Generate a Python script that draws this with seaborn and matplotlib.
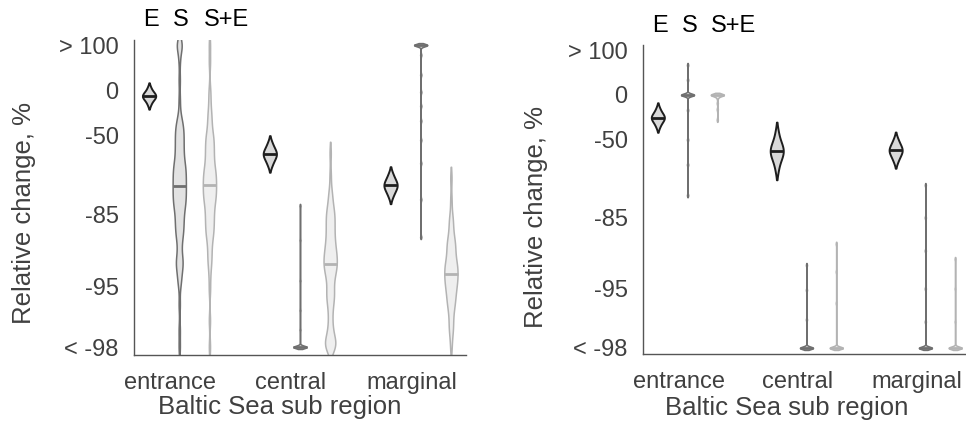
import numpy as np
import pandas as pd
import matplotlib
matplotlib.use("Agg")
import matplotlib.pyplot as plt
import matplotlib.ticker as mticker
import matplotlib.transforms as mtransforms
import seaborn as sns


# relative change (%) of each simulation.
# values outside the axis range are stored at the limits:
# 100 stands for "> 100" and -98 for "< -98"
regions = ["entrance", "central", "marginal"]
scenarios = ["E", "S", "S+E"]

# left panel
a_entrance_E = [5.6, 0.8, -2.2, -3.7, -5.1, -6.6, -8, -8, -9.4, -10.8, -12.1, -13.5, -16.1, -19.9]
a_entrance_S = [100, 100, 100, 100, 59, 17.3, -13.5, -31.2, -36.3,
                -40.5, -41.3, -44.9, -45.7, -48.9, -49.7, -52.7, -53.3, -56.2, -56.8,
                -59.4, -60.0, -62.3, -62.9, -65.1, -65.7,
                -67.6, -67.9, -68.2, -70.0, -70.3, -70.6, -72.2, -72.5, -72.8,
                -74.3, -74.5, -74.7, -76.2, -76.4, -76.6, -77.9, -78.1, -78.3,
                -79.5, -79.7, -79.9, -81.0, -81.2, -81.4, -82.4, -82.6, -82.8,
                -83.7, -83.9, -84.9, -85.1, -86.0, -86.2, -87.0, -87.2, -88.0, -88.2,
                -88.9, -89.1, -89.8, -90.5, -91.2, -91.9, -92.4, -92.6, -92.9, -93.1,
                -93.5, -94.0, -94.4, -94.9, -96.2, -97.4, -98]
a_entrance_SE = [100, 54.3, 0.7, -13.5, -25.8, -31.2, -36.3, -40.9, -45.3,
                 -48.9, -49.7, -52.7, -53.3, -56.2, -56.8, -59.4, -60.0, -62.3, -62.9,
                 -65.1, -65.7, -67.6, -68.2,
                 -70.0, -70.3, -70.6, -72.2, -72.5, -72.8, -74.3, -74.5, -74.7,
                 -76.2, -76.4, -76.6, -77.9, -78.1, -78.3, -79.5, -79.7, -79.9,
                 -81.0, -81.2, -81.4, -82.5, -82.7, -83.7, -83.9, -84.9, -85.1,
                 -86.0, -86.2, -87.0, -87.2, -88.0, -88.2, -88.9, -89.1,
                 -89.8, -90.5, -91.2, -91.9, -92.5, -93.0, -94.0, -95.2, -97.0, -98]
a_central_E = [-54.3, -56.4, -58.4, -59.3, -60.2, -61.1, -62, -62, -62.9, -63.7, -64.5, -65.3, -66.9, -68.4]
a_central_S = [-82.8, -89.8, -94.5, -96.5, -97.4, -98, -98, -98, -98, -98, -98, -98, -98, -98,
               -98, -98, -98, -98, -98, -98]
a_central_SE = [-61.5, -72.5, -78.1, -79.7, -81.2, -82.6, -83.7, -83.9, -84.9, -85.1,
                -86.0, -86.2, -87.0, -87.2, -88.0, -88.2, -88.9, -89.1, -89.7, -89.9,
                -90.4, -90.6, -91.1, -91.2, -91.3, -91.8, -91.9, -92.0, -92.4, -92.5, -92.6,
                -92.9, -93.0, -93.1, -93.4, -93.5, -93.6, -93.9, -94.1, -94.3, -94.5,
                -94.9, -95.1, -95.3, -95.5, -95.7, -95.8, -96.0, -96.2, -96.5, -96.7,
                -97.0, -97.2, -97.4, -97.55, -97.65, -97.75, -97.8, -97.85,
                -98, -98, -98, -98, -98]
a_marginal_E = [-71.6, -72.9, -74.1, -74.7, -75.3, -75.9, -76.4, -76.4, -76.9, -77.5, -78.0, -78.5, -79.4, -80.4]
a_marginal_S = [100, 100, 100, 100, 100, 100, 100, 100, 100, 100, 100, 100,
                72, 27, -2.3, -21, -37, -53, -67, -81, -89.3]
a_marginal_SE = [-73.7, -81.2, -85.0, -86.1, -87.1, -88.1, -89.0, -89.7, -89.9,
                 -90.4, -90.6, -91.1, -91.3, -91.8, -92.0, -92.4, -92.6,
                 -92.9, -93.0, -93.1, -93.4, -93.5, -93.6, -93.9, -94.0, -94.1,
                 -94.3, -94.4, -94.5, -94.8, -94.9, -95.0, -95.1, -95.3, -95.5, -95.7,
                 -95.8, -96.0, -96.1, -96.3, -96.5, -96.7, -97.0, -97.2, -97.4, -97.6, -98]

# right panel
b_entrance_E = [-17.9, -21.6, -24.5, -25.7, -27.1, -28.3, -29.6, -29.6, -30.9, -32.1, -33.3, -34.3, -36.8, -39.6]
b_entrance_S = [58.6, 26, 0, 0, 0, 0, 0, 0, 0, 0, 0, 0, 0, 0, -21, -50, -66, -78.8]
b_entrance_SE = [0, 0, 0, 0, 0, 0, 0, 0, 0, 0, 0, 0, -5, -12, -20, -32]
b_central_E = [-42.9, -48.7, -51.8, -53.6, -55.1, -56.6, -58, -58, -59.4, -60.7, -62.0, -63.4, -65.6, -69.1]
b_central_S = [-92.8, -95.1, -96.9, -98, -98, -98, -98, -98, -98, -98, -98, -98, -98, -98, -98, -98, -98]
b_central_SE = [-90, -93.5, -96, -98, -98, -98, -98, -98, -98, -98, -98, -98, -98, -98, -98, -98, -98]
b_marginal_E = [-48.9, -51.2, -53.4, -54.4, -55.5, -56.5, -57.5, -57.5, -58.5, -59.4, -60.3, -61.2, -63.0, -64.6]
b_marginal_S = [-75.2, -85, -91, -95, -97, -98, -98, -98, -98, -98, -98, -98, -98, -98, -98, -98, -98, -98, -98]
b_marginal_SE = [-92.1, -95, -97, -98, -98, -98, -98, -98, -98, -98, -98, -98, -98, -98, -98, -98, -98]

ytick_values = [100, 0, -50, -85, -95, -98]
ytick_labels = ["> 100", "0", "-50", "-85", "-95", "< -98"]

panel_a = {
    ("entrance", "E"): a_entrance_E, ("entrance", "S"): a_entrance_S, ("entrance", "S+E"): a_entrance_SE,
    ("central", "E"): a_central_E, ("central", "S"): a_central_S, ("central", "S+E"): a_central_SE,
    ("marginal", "E"): a_marginal_E, ("marginal", "S"): a_marginal_S, ("marginal", "S+E"): a_marginal_SE,
}
panel_b = {
    ("entrance", "E"): b_entrance_E, ("entrance", "S"): b_entrance_S, ("entrance", "S+E"): b_entrance_SE,
    ("central", "E"): b_central_E, ("central", "S"): b_central_S, ("central", "S+E"): b_central_SE,
    ("marginal", "E"): b_marginal_E, ("marginal", "S"): b_marginal_S, ("marginal", "S+E"): b_marginal_SE,
}

# slots on the x axis: three violins per region, one empty slot between regions
group_start = {"entrance": 1, "central": 5, "marginal": 9}
scen_offset = {"E": 0, "S": 1, "S+E": 2}

fill = {"E": "#d9d9d9", "S": "#e2e2e2", "S+E": "#efefef"}
edge = {"E": "#1e1e1e", "S": "#6f6f6f", "S+E": "#b3b3b3"}
edge_lw = {"E": 1.4, "S": 1.1, "S+E": 1.1}
violin_width = 0.44
text_color = "#404040"


def to_frame(panel):
    rows = []
    for (region, scen), values in panel.items():
        for v in values:
            rows.append({"region": region, "scenario": scen,
                         "pos": group_start[region] + scen_offset[scen],
                         "change": v})
    df = pd.DataFrame(rows)
    df["ratio"] = 1 + df["change"] / 100
    return df


def mad_bandwidth(kde):
    # robust (median absolute deviation) bandwidth, like matlab's ksdensity,
    # kept within a small range (log10 units)
    x = kde.dataset[0]
    sig = np.median(np.abs(x - np.median(x))) / 0.6745
    h = max(sig, 0.015) * (4 / (3 * x.size)) ** 0.2
    h = min(h, 0.05)
    return h / x.std(ddof=1)


def draw_panel(ax, panel, ylim, ylabel_xy, xlabel_xy):
    df = to_frame(panel)
    for scen in scenarios:
        sub = df[df["scenario"] == scen]
        spacing = np.diff(np.unique(sub["pos"])).min()
        n_before = len(ax.lines)
        sns.violinplot(data=sub, x="pos", y="ratio", native_scale=True,
                       log_scale=(False, True), color=fill[scen],
                       linecolor=edge[scen], linewidth=edge_lw[scen], saturation=1,
                       width=violin_width / spacing, density_norm="width",
                       cut=1.5, gridsize=400, bw_method=mad_bandwidth,
                       inner="quart", inner_kws=dict(linewidth=2.0, color=edge[scen]),
                       ax=ax)
        # keep only the median line of the quartile lines
        new_lines = list(ax.lines[n_before:])
        for i, line in enumerate(new_lines):
            if i % 3 == 1:
                line.set_linestyle("-")
                line.set_linewidth(2.0)
                line.set_solid_capstyle("butt")
            else:
                line.remove()

    ax.set_yscale("log")
    ax.set_ylim(*ylim)
    ax.set_xlim(0.5, 11.5)
    ax.set_yticks([1 + v / 100 for v in ytick_values], ytick_labels)
    ax.yaxis.set_minor_locator(mticker.NullLocator())

    ax.set_xticks([group_start[r] + 1 for r in regions], [])
    ax.set_xticks([group_start[r] + 0.7 for r in regions], regions, minor=True)
    ax.tick_params(axis="x", which="minor", length=0, pad=12, labelsize=17, labelcolor=text_color)
    ax.tick_params(axis="x", which="major", direction="in", length=4, color="#555555")
    ax.tick_params(axis="y", direction="in", length=4, color="#555555",
                   pad=11, labelsize=17, labelcolor=text_color)

    for side in ["top", "right"]:
        ax.spines[side].set_visible(False)
    for side in ["left", "bottom"]:
        ax.spines[side].set_color("#555555")
        ax.spines[side].set_linewidth(1.0)

    ax.set_ylabel("Relative change, %", fontsize=18.5, color=text_color)
    ax.yaxis.set_label_coords(*ylabel_xy)
    ax.yaxis.label.set_verticalalignment("center")
    ax.set_xlabel("Baltic Sea sub region", fontsize=18.5, color=text_color)
    ax.xaxis.set_label_coords(*xlabel_xy)
    ax.xaxis.label.set_verticalalignment("center")

    trans = mtransforms.blended_transform_factory(ax.transData, ax.transAxes)
    for scen in scenarios:
        ax.text(group_start["entrance"] + scen_offset[scen] - 0.2, 1.063, scen,
                transform=trans, ha="left", va="center", fontsize=17, color="black")


sns.set_style("white")
plt.rcParams["font.family"] = ["Liberation Sans", "DejaVu Sans"]

fig = plt.figure(figsize=(9.66, 4.33), dpi=100)
ax_a = fig.add_axes([0.1387, 0.1801, 0.3437, 0.7275])
ax_b = fig.add_axes([0.6656, 0.1824, 0.3385, 0.7136])

draw_panel(ax_a, panel_a, (0.0177, 2.16), (-0.331, 0.45), (0.44, -0.165))
draw_panel(ax_b, panel_b, (0.0182, 2.16), (-0.327, 0.443), (0.44, -0.175))

fig.savefig("out.png", dpi=100)
